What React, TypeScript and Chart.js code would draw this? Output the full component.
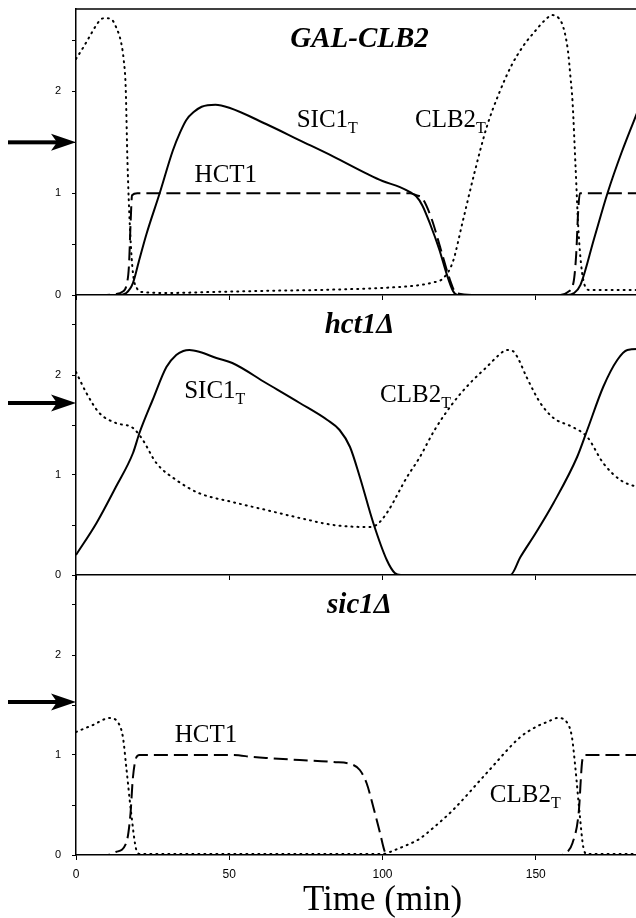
import React, { useEffect, useRef } from 'react';
import { Chart, registerables } from 'chart.js';

Chart.register(...registerables);

// ---- axes ----
const xTicks = [0, 50, 100, 150, 200];
const yTicks = [0, 0.5, 1, 1.5, 2, 2.5];
const xTitle = 'Time (min)';

// ---- GAL-CLB2 panel ----
const galClbT = [0, 1.7, 3.3, 5, 6.6, 8.2, 9.6, 11.5, 13.1, 14.8, 15.6, 16.2, 16.8, 17.7, 18.6, 20, 21.5, 30, 45, 60, 80, 100, 110, 116, 120, 123, 126, 130, 134, 138, 142, 146, 150, 153, 155.4, 157.5, 159, 160.5, 161.3, 162, 163, 164, 165.5, 167.5, 175, 184];
const galClbV = [2.32, 2.4, 2.48, 2.57, 2.65, 2.71, 2.72, 2.71, 2.63, 2.47, 2.3, 2.05, 1.3, 0.6, 0.21, 0.06, 0.03, 0.02, 0.03, 0.04, 0.05, 0.07, 0.09, 0.12, 0.17, 0.33, 0.7, 1.2, 1.65, 1.98, 2.25, 2.45, 2.6, 2.7, 2.75, 2.72, 2.63, 2.4, 2.15, 1.9, 1.25, 0.6, 0.15, 0.05, 0.05, 0.05];
const galSicT = [0, 14, 16.4, 18.6, 20.5, 23, 27.3, 31.6, 34, 36, 38.5, 41, 45.5, 50, 62, 73, 84, 95, 100, 105.7, 109, 111, 113, 115.5, 118.5, 121, 123, 124.5, 150, 160.3, 162.5, 164.6, 169, 173.4, 178, 184];
const galSicV = [0, 0, 0.02, 0.12, 0.33, 0.6, 1.0, 1.42, 1.6, 1.72, 1.8, 1.85, 1.87, 1.84, 1.68, 1.52, 1.36, 1.19, 1.12, 1.06, 1.01, 0.97, 0.88, 0.7, 0.45, 0.2, 0.04, 0, 0, 0, 0.02, 0.1, 0.55, 1.0, 1.4, 1.86];
const galHctT = [0, 10, 13, 15, 16.5, 17.3, 17.8, 18.3, 20, 60, 100, 109, 111, 113, 116, 119, 122, 124, 130, 158, 160.5, 162.3, 163.2, 163.8, 164.4, 170, 184];
const galHctV = [0, 0, 0.01, 0.03, 0.1, 0.3, 0.7, 0.98, 1, 1, 1, 1, 0.98, 0.95, 0.75, 0.45, 0.15, 0.02, 0, 0, 0.03, 0.12, 0.4, 0.8, 1, 1, 1];

// ---- hct1Δ panel ----
const hctSicT = [0, 6.7, 13, 18.6, 20.7, 25, 29.5, 32.7, 35, 37, 40.4, 45.8, 51, 62, 73, 82, 86, 89.4, 92.6, 97, 101.4, 104, 106, 141.7, 145, 150, 155.8, 163.5, 166.8, 172, 176.6, 179.9, 184];
const hctSicV = [0.2, 0.52, 0.88, 1.22, 1.42, 1.75, 2.08, 2.2, 2.24, 2.25, 2.23, 2.17, 2.12, 1.92, 1.72, 1.55, 1.45, 1.28, 0.98, 0.52, 0.15, 0.02, 0, 0, 0.18, 0.42, 0.72, 1.18, 1.45, 1.88, 2.15, 2.25, 2.26];
const hctClbT = [0, 3.4, 7.6, 13, 18.6, 21.8, 26.2, 32.7, 40, 51, 62, 73, 84, 95, 98, 101.4, 108, 112, 117, 123, 128.6, 134, 138, 140.5, 142.5, 144, 147, 151.5, 155.8, 162, 166.8, 172, 177.6, 184];
const hctClbV = [2.03, 1.82, 1.62, 1.52, 1.47, 1.35, 1.12, 0.95, 0.82, 0.73, 0.65, 0.57, 0.5, 0.48, 0.5, 0.62, 0.98, 1.17, 1.45, 1.72, 1.92, 2.08, 2.2, 2.25, 2.24, 2.18, 1.98, 1.72, 1.57, 1.48, 1.38, 1.12, 0.95, 0.87];

// ---- sic1Δ panel ----
const sicClbT = [0, 5.5, 11, 13.6, 15.3, 16.4, 18, 19.7, 21, 50, 100, 104, 108, 112, 116.5, 123, 134, 145, 150, 153.7, 157.3, 160.3, 161.8, 162.9, 164.3, 165.5, 166.8, 184];
const sicClbV = [1.23, 1.3, 1.37, 1.33, 1.18, 0.88, 0.42, 0.05, 0.01, 0.01, 0.01, 0.05, 0.1, 0.16, 0.27, 0.45, 0.82, 1.18, 1.28, 1.33, 1.37, 1.32, 1.18, 0.88, 0.42, 0.08, 0.01, 0.01];
const sicHctT = [0, 10, 13, 16.4, 17.8, 18.5, 19.6, 20.7, 51, 57.7, 62, 73, 84, 90.5, 92.6, 94.8, 97, 99.2, 100.8, 102, 158, 160.3, 162, 164, 165.2, 166, 184];
const sicHctV = [0, 0, 0.03, 0.12, 0.42, 0.75, 0.97, 1, 1, 0.98, 0.97, 0.95, 0.93, 0.9, 0.85, 0.72, 0.48, 0.22, 0.03, 0, 0, 0.03, 0.12, 0.42, 0.95, 1, 1];

// ---- annotations ----
const panelTitles = ['GAL-CLB2', 'hct1Δ', 'sic1Δ'];
const arrowLevels = [1.5, 1.72, 1.53];
const galLabels = [
  { text: 'HCT1', sub: '', x: 38.7, y: 1.11 },
  { text: 'SIC1', sub: 'T', x: 72, y: 1.65 },
  { text: 'CLB2', sub: 'T', x: 110.6, y: 1.65 },
];
const hctLabels = [
  { text: 'SIC1', sub: 'T', x: 35.3, y: 1.77 },
  { text: 'CLB2', sub: 'T', x: 99.2, y: 1.73 },
];
const sicLabels = [
  { text: 'HCT1', sub: '', x: 32.2, y: 1.13 },
  { text: 'CLB2', sub: 'T', x: 135, y: 0.53 },
];

const pts = (t: number[], v: number[]) => t.map((x, i) => ({ x, y: v[i] }));

const STYLE: any = {
  solid: { borderDash: [] },
  dashed: { borderDash: [14, 6] },
  dotted: { borderDash: [1, 5], borderCapStyle: 'round' },
};

const ds = (t: number[], v: number[], kind: string) => ({
  data: pts(t, v),
  borderColor: '#000',
  borderWidth: 2,
  pointRadius: 0,
  cubicInterpolationMode: 'monotone',
  fill: false,
  ...STYLE[kind],
});

const SERIF = '"Liberation Serif", "Times New Roman", serif';
const SANS = '"Liberation Sans", Arial, sans-serif';

const PANELS = [
  {
    top: 0, h: 306, padTop: 9, xH: 11, yMax: 2.81, showX: false, topBorder: true,
    title: panelTitles[0], titleY: 2.44, arrow: arrowLevels[0], labels: galLabels,
    datasets: [ds(galClbT, galClbV, 'dotted'), ds(galHctT, galHctV, 'dashed'), ds(galSicT, galSicV, 'solid')],
  },
  {
    top: 280, h: 306, padTop: 15, xH: 11, yMax: 2.8, showX: false, topBorder: false,
    title: panelTitles[1], titleY: 2.42, arrow: arrowLevels[1], labels: hctLabels,
    datasets: [ds(hctClbT, hctClbV, 'dotted'), ds(hctSicT, hctSicV, 'solid')],
  },
  {
    top: 560, h: 358, padTop: 15, xH: 63, yMax: 2.8, showX: true, topBorder: false,
    title: panelTitles[2], titleY: 2.42, arrow: arrowLevels[2], labels: sicLabels,
    datasets: [ds(sicClbT, sicClbV, 'dotted'), ds(sicHctT, sicHctV, 'dashed')],
  },
];

const W = 689;

function makeDecor(p: any) {
  return {
    id: 'decor',
    afterDraw(chart: any) {
      const { ctx, chartArea } = chart;
      const xs = chart.scales.x;
      const ys = chart.scales.y;
      ctx.save();
      ctx.fillStyle = '#000';
      ctx.strokeStyle = '#000';
      if (p.topBorder) {
        ctx.lineWidth = 1.5;
        ctx.beginPath();
        ctx.moveTo(chartArea.left, chartArea.top);
        ctx.lineTo(chartArea.right, chartArea.top);
        ctx.stroke();
      }
      // arrow
      const ay = ys.getPixelForValue(p.arrow);
      const tip = chartArea.left;
      ctx.fillRect(8, ay - 2, tip - 8 - 18, 4);
      ctx.beginPath();
      ctx.moveTo(tip, ay);
      ctx.lineTo(tip - 25, ay - 8.5);
      ctx.lineTo(tip - 19, ay);
      ctx.lineTo(tip - 25, ay + 8.5);
      ctx.closePath();
      ctx.fill();
      // title
      ctx.font = `italic bold 29px ${SERIF}`;
      ctx.textAlign = 'center';
      ctx.textBaseline = 'alphabetic';
      ctx.fillText(p.title, xs.getPixelForValue(92.5), ys.getPixelForValue(p.titleY));
      // curve labels
      ctx.textAlign = 'left';
      for (const l of p.labels) {
        const lx = xs.getPixelForValue(l.x);
        const ly = ys.getPixelForValue(l.y);
        ctx.font = `25px ${SERIF}`;
        ctx.fillText(l.text, lx, ly);
        if (l.sub) {
          const w = ctx.measureText(l.text).width;
          ctx.font = `16px ${SERIF}`;
          ctx.fillText(l.sub, lx + w, ly + 6);
        }
      }
      ctx.restore();
    },
  };
}

function Panel({ p }: { p: any }) {
  const ref = useRef<HTMLCanvasElement>(null);
  useEffect(() => {
    const chart = new Chart(ref.current as HTMLCanvasElement, {
      type: 'line',
      data: { datasets: p.datasets },
      options: {
        animation: false,
        responsive: false,
        events: [],
        layout: { padding: { top: p.padTop, left: 0, right: 0, bottom: 0 } },
        plugins: { legend: { display: false }, tooltip: { enabled: false }, title: { display: false } },
        scales: {
          x: {
            type: 'linear',
            min: 0,
            max: 200,
            afterBuildTicks: (s: any) => { s.ticks = xTicks.map((v) => ({ value: v })); },
            afterFit: (s: any) => { s.height = p.xH; s.paddingLeft = 0; s.paddingRight = 0; },
            grid: { drawOnChartArea: false, drawTicks: true, tickLength: 5, color: '#000', lineWidth: 1 },
            border: { display: true, color: '#000', width: 1.5 },
            ticks: {
              padding: 7,
              color: '#000',
              maxRotation: 0,
              autoSkip: false,
              font: { family: SANS, size: 12 },
              callback: (v: any) => (p.showX ? String(v) : ''),
            },
            title: {
              display: p.showX,
              text: xTitle,
              color: '#000',
              font: { family: SERIF, size: 35, lineHeight: 1 },
              padding: { top: 0, bottom: 0 },
            },
          },
          y: {
            type: 'linear',
            min: 0,
            max: p.yMax,
            afterBuildTicks: (s: any) => { s.ticks = yTicks.map((v) => ({ value: v })); },
            afterFit: (s: any) => { s.width = 76; s.paddingTop = 0; s.paddingBottom = 0; },
            grid: { drawOnChartArea: false, drawTicks: true, tickLength: 4, color: '#000', lineWidth: 1 },
            border: { display: true, color: '#000', width: 1.5 },
            ticks: {
              padding: 11,
              color: '#000',
              autoSkip: false,
              font: { family: SANS, size: 11 },
              callback: (v: any) => (Number.isInteger(v) ? String(v) : ''),
            },
          },
        },
      } as any,
      plugins: [makeDecor(p)],
    });
    return () => chart.destroy();
  }, []);
  return (
    <canvas
      ref={ref}
      width={W}
      height={p.h}
      style={{ position: 'absolute', left: 0, top: p.top, width: W, height: p.h }}
    />
  );
}

export default function App() {
  return (
    <div
      style={{
        position: 'absolute',
        left: 0,
        top: 0,
        width: 636,
        height: 918,
        overflow: 'hidden',
        background: '#fff',
      }}
    >
      {PANELS.map((p, i) => (
        <Panel key={i} p={p} />
      ))}
    </div>
  );
}
